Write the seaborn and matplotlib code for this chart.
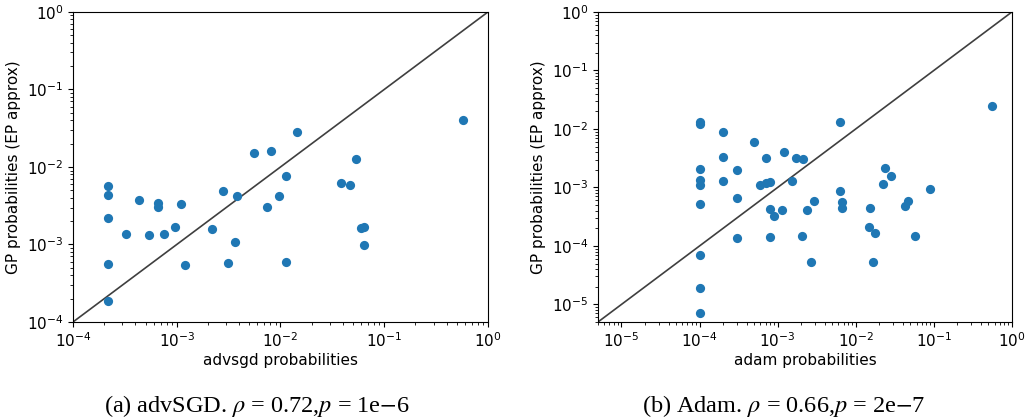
import numpy as np
import pandas as pd
import matplotlib
matplotlib.use("Agg")
import matplotlib.pyplot as plt
import seaborn as sns

# valores
advsgd_x = [0.58, 0.0144, 0.0056, 0.0081, 0.0535, 0.0114, 0.038, 0.047, 0.00281, 0.00384,
            0.00969, 0.00741, 0.000219, 0.000219, 0.000219, 0.000219, 0.000219, 0.000432,
            0.000655, 0.000655, 0.00109, 0.000969, 0.000324, 0.000545, 0.000759, 0.00219,
            0.00361, 0.00121, 0.00312, 0.0114, 0.0593, 0.0638, 0.0638]
advsgd_y = [0.040, 0.0285, 0.0153, 0.0161, 0.0127, 0.00766, 0.00629, 0.00586, 0.00486, 0.00419,
            0.00419, 0.00306, 0.00575, 0.00440, 0.00218, 0.000558, 0.000188, 0.00380,
            0.00347, 0.00306, 0.00337, 0.00167, 0.00136, 0.00132, 0.00136, 0.00158,
            0.00107, 0.000537, 0.000569, 0.000598, 0.00164, 0.00167, 0.000971]

adam_x = [0.561, 0.00637, 1e-4, 1e-4, 2e-4, 5e-4, 0.00121, 2e-4, 0.000718, 0.00171,
          0.00213, 0.0234, 0.0284, 1e-4, 3e-4, 1e-4, 1e-4, 2e-4, 0.000597, 0.000718,
          0.000807, 0.00153, 0.0223, 0.0902, 0.00624, 3e-4, 0.00291, 0.00668, 0.00668, 0.0463,
          0.0432, 1e-4, 0.000807, 0.00112, 0.000908, 0.00239, 0.0152, 0.0149, 0.0176, 0.058,
          3e-4, 0.000807, 0.00203, 0.00269, 0.0164, 1e-4, 1e-4, 1e-4]
adam_y = [0.025, 0.0133, 0.0133, 0.0120, 0.00877, 0.0060, 0.00411, 0.00329, 0.00321, 0.00321,
          0.00308, 0.00216, 0.00158, 0.00203, 0.00197, 0.00133, 0.00112, 0.0013, 0.00111, 0.00119,
          0.00122, 0.0013, 0.00115, 0.00095, 0.000866, 0.000667, 0.000585, 0.000555, 0.000439, 0.000593,
          0.000481, 0.00052, 0.000427, 0.000416, 0.00032, 0.000416, 0.000439, 0.000211, 0.000169, 0.000148,
          0.000137, 0.000144, 0.000148, 5.27e-5, 5.41e-5, 7.0e-5, 1.9e-5, 7.1e-6]

limites = [(1e-4, 1.0), (5e-6, 1.0)]
xlabels = ["advsgd probabilities", "adam probabilities"]
captions = [r"(a) advSGD. $\rho$ = 0.72,$p$ = 1e$-$6", r"(b) Adam. $\rho$ = 0.66,$p$ = 2e$-$7"]

plt.rcParams["mathtext.fontset"] = "stix"

fig = plt.figure(figsize=(10.28, 4.19), dpi=100)
ax1 = fig.add_axes([0.071, 0.2315, 0.4037, 0.74])
ax2 = fig.add_axes([0.5817, 0.2315, 0.4027, 0.74])

datos = [(advsgd_x, advsgd_y), (adam_x, adam_y)]
for ax, (xs, ys), lim, xl in zip([ax1, ax2], datos, limites, xlabels):
    df = pd.DataFrame({"x": xs, "y": ys})
    ax.plot(lim, lim, color="#3f3f3f", linewidth=1.2, zorder=1)
    sns.scatterplot(data=df, x="x", y="y", ax=ax, color="#1f77b4", s=44, linewidth=0, zorder=2)
    ax.set_xscale("log")
    ax.set_yscale("log")
    ax.set_xlim(lim)
    ax.set_ylim(lim)
    ax.set_xlabel(xl, fontsize=11, labelpad=2)
    ax.set_ylabel("GP probabilities (EP approx)", fontsize=11)
    ax.tick_params(labelsize=11)

fig.text(0.25, 0.017, captions[0], ha="center", va="baseline", fontsize=17.5, family="Liberation Serif")
fig.text(0.762, 0.017, captions[1], ha="center", va="baseline", fontsize=17.5, family="Liberation Serif")

fig.savefig("out.png", dpi=100)
